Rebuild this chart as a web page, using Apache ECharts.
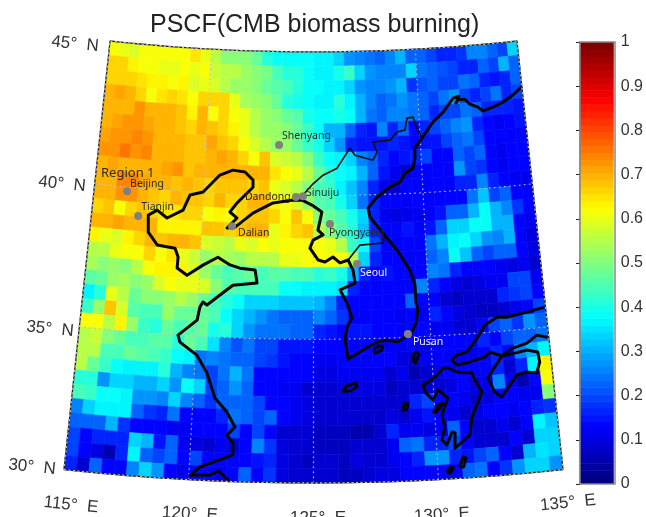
<!DOCTYPE html>
<html><head><meta charset="utf-8">
<style>html,body{margin:0;padding:0;background:#fff}#main{width:646px;height:517px;filter:blur(0.6px)}</style>
<script src="https://cdn.jsdelivr.net/npm/echarts@6/dist/echarts.min.js"></script>
</head><body><div id="main"></div>
<script>
const titleText = 'PSCF(CMB biomass burning)';
const lonEdges = [115,135], latEdges = [30,45], cellDeg = 0.5;
const lonTicks = ['115°  E','120°  E','125°  E','130°  E','135°  E'];
const latTicks = ['45°  N','40°  N','35°  N','30°  N'];
const meridians = [120,125,130], parallels = [35,40];
// PSCF x 100, rows from 45N southward, columns from 115E eastward
const r00=[62,60,58,62,62,61,62,62,65,60, 56,50,50,50,47,42,38,38,38,38, 37,36,33,28,26,24,22,26,30,22, 22,20,17,16,18,25,26,22,20,34];
const r01=[66,66,63,62,61,60,60,62,60,62, 57,55,56,52,50,49,44,42,42,38, 37,37,40,43,33,27,25,25,26,33, 24,22,21,19,17,17,22,20,30,22];
const r02=[67,66,66,65,64,64,62,63,58,60, 58,55,52,52,50,47,46,44,42,38, 38,37,37,34,27,25,25,28,30,18, 21,22,20,20,24,22,17,15,17,22];
const r03=[70,71,70,67,62,65,66,65,62,66, 67,66,60,54,52,50,47,42,40,38, 36,36,42,36,31,25,23,24,27,24, 23,19,24,28,19,17,19,24,16,20];
const r04=[70,70,70,72,70,69,69,68,64,70, 62,66,62,60,56,52,50,48,46,40, 38,38,40,38,31,24,22,25,26,24, 22,17,19,19,24,22,16,17,16,15];
const r05=[70,71,73,72,71,70,70,68,66,70, 68,66,63,60,55,52,52,50,48,43, 38,30,30,22,17,15,25,17,22,14, 16,19,22,25,28,16,14,11,14,15];
const r06=[71,72,72,74,73,70,70,70,68,68, 71,68,66,62,58,55,53,53,48,43, 40,33,27,17,15,15,15,17,15,14, 15,15,20,22,24,20,14,13,13,14];
const r07=[72,73,75,73,74,70,70,70,68,68, 70,71,70,66,62,68,58,57,56,50, 43,38,36,33,25,22,17,13,15,16, 20,13,14,22,19,22,13,12,13,14];
const r08=[70,71,70,70,70,70,71,73,68,70, 70,70,70,70,70,70,65,62,60,55, 47,42,38,36,30,22,15,12,9,13, 14,13,14,28,19,18,14,12,13,13];
const r09=[70,70,74,74,71,70,70,68,70,68, 66,68,68,68,66,68,60,58,56,50, 45,43,37,32,25,16,12,9,14,14, 14,14,13,16,16,25,16,13,12,12];
const r10=[70,70,73,72,70,68,67,69,68,68, 67,70,66,66,70,70,64,62,58,52, 46,44,40,33,24,17,13,13,11,13, 13,13,13,14,24,32,19,22,14,13];
const r11=[66,68,62,66,68,66,65,65,66,66, 62,63,62,66,68,68,66,62,68,62, 50,48,45,40,33,17,11,10,11,12, 13,15,22,22,30,38,30,25,18,13];
const r12=[70,70,71,70,70,70,64,64,63,63, 68,68,66,68,70,70,60,63,66,68, 56,50,46,42,32,16,14,14,15,14, 15,22,33,33,38,38,30,30,13,11];
const r13=[64,60,58,63,66,70,68,70,70,68, 58,57,56,60,58,62,60,62,62,62, 62,60,56,43,38,19,14,13,13,14, 24,30,36,38,34,27,26,30,13,10];
const r14=[56,55,60,62,62,66,62,65,60,57, 52,56,54,52,55,56,56,60,60,62, 62,62,62,55,33,17,14,13,13,13, 22,26,38,32,22,19,22,22,13,10];
const r15=[54,50,52,50,55,62,63,63,63,58, 52,48,45,46,47,45,46,46,44,44, 42,43,40,30,16,14,15,14,13,13, 25,24,17,14,14,13,12,10,11,9];
const r16=[46,48,53,54,50,52,58,62,60,60, 58,50,46,45,44,44,44,38,38,37, 37,36,35,16,14,14,13,13,13,26, 16,13,10,8,10,11,11,20,20,11];
const r17=[37,42,60,56,48,50,50,52,55,52, 48,44,42,38,34,33,33,32,32,32, 30,26,17,14,14,14,13,13,22,14, 13,9,7,8,9,8,17,18,20,13];
const r18=[43,52,68,58,46,45,45,52,48,48, 48,45,38,34,30,27,24,22,22,23, 26,22,18,14,14,13,13,12,13,11, 17,13,10,8,7,7,8,11,14,20];
const r19=[62,62,55,64,52,43,42,48,44,46, 48,40,42,33,28,24,24,24,22,22, 17,15,14,15,15,14,13,13,14,13, 11,11,9,9,14,20,22,18,28,22];
const r20=[55,57,50,47,45,44,46,46,42,47, 45,35,25,21,24,20,19,15,15,15, 13,13,13,13,13,13,11,12,13,12, 11,13,13,14,17,13,20,22,22,24];
const r21=[55,55,45,44,48,46,44,43,38,37, 24,26,24,22,22,19,18,15,13,13, 12,12,13,13,14,13,13,10,8,11, 13,13,11,12,13,16,14,25,30,37];
const r22=[56,48,43,38,36,36,36,42,30,25, 24,20,24,30,24,14,14,14,13,13, 10,10,11,12,12,12,9,12,6,8, 11,13,13,13,14,17,8,17,37,63];
const r23=[42,42,28,33,33,30,30,33,28,38, 33,20,22,27,22,13,13,11,11,9, 9,9,10,10,10,10,7,9,8,8, 8,10,13,10,11,25,11,6,13,62];
const r24=[45,43,38,38,36,28,27,25,33,25, 22,18,22,22,22,19,13,13,11,10, 9,8,8,8,8,8,8,8,17,20, 14,14,11,8,10,13,14,11,11,50];
const r25=[26,33,36,37,36,22,18,16,24,14, 13,13,17,24,22,20,22,13,11,10, 8,8,8,8,8,8,10,9,11,15, 13,11,8,10,13,14,11,13,17,18];
const r26=[22,22,22,31,18,13,13,13,11,11, 13,14,14,19,14,19,13,9,8,9, 7,7,7,6,6,8,16,11,11,10, 11,22,13,8,8,11,8,13,37,32];
const r27=[19,14,16,16,16,33,30,15,22,11, 10,8,11,9,13,25,18,10,8,8, 7,7,7,8,8,8,11,22,24,17, 16,19,14,8,8,8,14,9,34,33];
const r28=[19,13,10,6,17,37,22,20,22,14, 20,14,13,13,13,15,17,10,8,7, 8,8,7,10,9,9,11,13,17,27, 27,17,15,19,22,14,9,30,35,34];
const r29=[17,8,22,13,13,25,33,27,13,11, 13,13,11,14,22,13,18,10,8,8, 8,8,7,7,9,10,10,13,13,13, 13,13,22,24,13,18,27,33,33,27];
const pscfRows=[r00,r01,r02,r03,r04,r05,r06,r07,r08,r09,r10,r11,r12,r13,r14,r15,r16,r17,r18,r19,r20,r21,r22,r23,r24,r25,r26,r27,r28,r29];

const mainCoast=[[135,43.4],[134.52,43.14],[134.02,42.93],[133.53,42.79],[133.04,42.69],[132.82,42.84],[132.45,42.96],[132.23,43.15],[131.9,43.14],[131.79,43.04],[131.96,43.27],[131.67,43.22],[131.15,42.75],[130.64,42.43],[130.09,41.9],[129.73,41.56],[129.71,41.21],[129.6,40.87],[129.22,40.71],[128.97,40.41],[128.5,40.25],[127.89,39.91],[127.47,39.54],[127.55,39.22],[128.11,38.65],[128.71,38.05],[129.24,37.33],[129.43,36.8],[129.44,36.18],[129.51,35.97],[129.4,35.48],[129.17,35.14],[128.55,34.85],[128.13,34.93],[127.7,34.87],[127.1,34.61],[126.46,34.3],[126.34,35.07],[126.48,35.49],[126.66,35.73],[126.45,36.25],[126.16,36.71],[126.82,36.94],[126.74,37.39],[126.53,37.75],[126.17,37.65],[125.86,37.86],[125.51,37.69],[125.2,37.76],[124.84,38.17],[124.98,38.45],[125.43,38.63],[125.2,38.8],[125.38,39.43],[124.93,39.67],[124.48,39.84],[124.07,39.84],[123.16,39.73],[122.26,39.36],[121.48,38.85],[121.12,38.81],[121.55,39.17],[121.22,39.37],[121.52,39.69],[122.23,40.26],[122.22,40.51],[121.84,40.78],[121.28,40.83],[120.69,40.64],[119.96,40.02],[119.37,39.89],[119.1,39.35],[118.4,39.04],[117.93,39.29],[117.55,39.09],[117.61,38.5],[118.05,38.08],[118.85,38.01],[119.01,37.71],[119,37.33],[119.45,37.1],[120.13,37.48],[120.77,37.78],[121.32,37.53],[121.76,37.43],[122.43,37.38],[122.53,36.93],[121.48,36.83],[120.81,36.39],[120.39,36.1],[120.21,36.2],[120.09,36.02],[120,35.56],[119.22,35],[119.32,34.76],[120.07,34.34],[120.53,33.74],[120.91,32.88],[121.43,32.41],[121.78,31.9],[121.47,31.61],[121.72,31.34],[121.74,30.93],[120.43,30.46],[120.05,30.16],[120.85,30.2],[121.16,30.35],[121.41,30.18],[121.66,30]];
const chinaKoreaBorder=[[124.52,40.02],[124.93,40.37],[125.44,40.71],[126.09,40.95],[126.7,41.64],[126.93,41.39],[127.76,41.2],[127.96,41.48],[127.79,41.83],[128.59,41.88],[128.93,42.15],[129.31,42.21],[129.43,42.62],[129.72,42.64],[129.88,42.25],[130.09,41.9]];
const koreaDivide=[[126.53,37.75],[127.07,38.26],[128.1,38.31],[128.2,38.65]];
const honshu=[[134.96,35.69],[134.17,35.58],[133.3,35.47],[132.88,35.5],[132.34,35.26],[131.96,34.83],[131.49,34.37],[131.06,34.29],[130.84,34.13],[131.03,33.94],[131.59,34.02],[132.23,34.15],[132.46,34.31],[132.95,34.14],[132.52,33.68],[132.29,33.42],[132.53,32.91],[132.8,32.72],[133.03,32.95],[133.5,33.43],[133.93,33.51],[134.34,33.44],[134.51,33.81],[134.47,34.16],[134.02,34.27],[133.5,34.2],[132.95,34.14],[133.44,34.38],[134.05,34.51],[134.5,34.75],[134.95,34.64]];
const kyushu=[[130.44,33.87],[130.09,33.57],[129.57,33.31],[129.64,33.07],[129.95,32.78],[130.18,33.11],[130.57,32.82],[130.29,32.24],[130.38,31.82],[130.23,31.37],[130.42,31.19],[130.66,31.63],[130.78,31.59],[130.74,31.06],[131.38,31.48],[131.51,32.1],[132,32.95],[131.74,33.38],[131.64,33.63],[131.02,33.7],[130.65,33.86],[130.44,33.87]];
const jeju=[[126.19,33.19],[126.4,33.37],[126.77,33.47],[126.81,33.33],[126.52,33.19],[126.19,33.19]];
const southIsle=[[127.53,34.59],[127.74,34.73],[127.95,34.72],[127.87,34.57],[127.61,34.49],[127.53,34.59]];
const tsushima=[[129.38,34.51],[129.46,34.37],[129.29,34.09],[129.21,34.19],[129.25,34.4],[129.38,34.51]];
const smallIsle=[[128.75,32.71],[128.91,32.68],[128.83,32.47],[128.67,32.47],[128.75,32.71]];
const goto=[[129.94,32.32],[130.14,32.59],[130.35,32.65],[130.22,32.49],[130.02,32.32],[129.94,32.32]];
const tanega=[[130.88,30.4],[131.04,30.74],[131.16,30.7],[131.04,30.39],[130.88,30.4]];
const yaku=[[130.35,30.22],[130.51,30.42],[130.63,30.38],[130.51,30.21],[130.35,30.22]];
const coastLines=[mainCoast,honshu,kyushu,jeju,southIsle,tsushima,smallIsle,goto,tanega,yaku];
const borderLines=[chinaKoreaBorder,koreaDivide];

const cityNames=['Shenyang','Beijing','Tianjin','Dandong','Sinuiju','Dalian','Pyongyang','Seoul','Pusan'];
const cityLon=[123.39,116.5,117.1,124.2,124.52,121.34,125.74,126.92,129.03];
const cityLat=[41.75,39.86,39.03,39.95,39.98,38.88,39.01,37.6,35.11];
const cityLabelOffset=[[-1,-9],[-1,-7],[-1,-9],[-55,0],[-1,-3],[2,7],[-5,9],[-1,9],[1,8]];
const cityLabelColor=['#2a2a2a','#2a2a2a','#2a2a2a','#2a2a2a','#2a2a2a','#2a2a2a','#2a2a2a','#f4f4f4','#f4f4f4'];

const D=Math.PI/180, N=0.613, R30=2336, PXDEG=28.75, LON0=125;
const project=([lon,lat])=>{const r=R30-(lat-30)*PXDEG,t=(lon-LON0)*N*D;return [r*Math.sin(t),r*Math.cos(t)];};
const unproject=([x,y])=>{const r=Math.hypot(x,y),t=Math.atan2(x,y);return [t/(N*D)+LON0,30+(R30-r)/PXDEG];};

function jet(v){const t=Math.min(63,Math.max(0,Math.floor(v*64)))/63;
  const c=a=>Math.round(255*Math.min(1,Math.max(0,1.5-Math.abs(4*t-a))));
  return 'rgb('+c(3)+','+c(2)+','+c(1)+')';}

const ring=[];
for(let x=lonEdges[0];x<=lonEdges[1];x+=cellDeg)ring.push([x,latEdges[0]]);
for(let y=latEdges[0]+cellDeg;y<=latEdges[1];y+=cellDeg)ring.push([lonEdges[1],y]);
for(let x=lonEdges[1]-cellDeg;x>=lonEdges[0];x-=cellDeg)ring.push([x,latEdges[1]]);
for(let y=latEdges[1]-cellDeg;y>=latEdges[0];y-=cellDeg)ring.push([lonEdges[0],y]);
echarts.registerMap('frame',{type:'FeatureCollection',features:[{type:'Feature',properties:{name:'frame'},geometry:{type:'Polygon',coordinates:[ring]}}]});

const cells=[];
pscfRows.forEach((row,i)=>row.forEach((v,j)=>cells.push([lonEdges[0]+j*cellDeg,latEdges[1]-(i+1)*cellDeg,v/100])));

function pathSeries(paths,z,style){
  return {type:'custom',coordinateSystem:'geo',geoIndex:0,silent:true,z,animation:false,
    data:paths.map((p,i)=>[p[0][0],p[0][1],i]),
    renderItem:(params,api)=>{const p=paths[api.value(2)].map(c=>api.coord(c));
      return {type:'polyline',shape:{points:p},style:Object.assign({fill:null,lineJoin:'round'},style)};}};
}
function dens(a0,a1,f){const o=[];for(let a=a0;a<=a1+1e-6;a+=0.5)o.push(f(a));return o;}
const gratLines=[...meridians.map(m=>dens(latEdges[0],latEdges[1],y=>[m,y])),...parallels.map(p=>dens(lonEdges[0],lonEdges[1],x=>[x,p]))];

const FONT='"Liberation Sans",Arial,sans-serif';
const latPos=[[75,44,-6],[62,184,-6],[50,329,-6],[32,467,-6]];
const lonPos=[[71,505,-6],[190,514,-3],[318,518,0],[442,515,3],[568,503,6]];
const tickText=(t,p)=>({type:'text',x:p[0],y:p[1],rotation:p[2]*D,silent:true,
  style:{text:t,font:'17px '+FONT,fill:'#333',textAlign:'center',textVerticalAlign:'middle'}});

const chart=echarts.init(document.getElementById('main'),null,{renderer:'canvas'});
const levels=[];for(let k=0;k<64;k++)levels.push([0,k/64]);
chart.setOption({
  animation:false,backgroundColor:'#fff',
  title:{text:titleText,left:145,top:8,textStyle:{fontFamily:FONT,fontSize:25,fontWeight:'normal',color:'#222'}},
  geo:{map:'frame',projection:{project,unproject},left:64,top:41,width:499,height:442,silent:true,roam:false,
    label:{show:false},itemStyle:{areaColor:'transparent',borderWidth:0}},
  grid:{left:580,top:42,width:35,height:442,show:false},
  xAxis:{type:'value',min:0,max:1,show:false},
  yAxis:{type:'value',position:'right',min:0,max:1,interval:0.1,
    axisLine:{show:true,lineStyle:{color:'#888',width:1.5}},
    axisTick:{show:true,inside:true,length:4,lineStyle:{color:'#222',width:1}},
    splitLine:{show:false},
    axisLabel:{fontSize:16,margin:7,color:'#333',fontFamily:FONT,formatter:v=>String(+v.toFixed(1))}},
  series:[
    {type:'custom',coordinateSystem:'geo',geoIndex:0,silent:true,z:2,animation:false,data:cells,
      renderItem:(params,api)=>{const x=api.value(0),y=api.value(1),c=jet(api.value(2));
        return {type:'polygon',shape:{points:[api.coord([x,y]),api.coord([x+cellDeg,y]),api.coord([x+cellDeg,y+cellDeg]),api.coord([x,y+cellDeg])]},
          style:{fill:c,stroke:c,lineWidth:0.6}};}},
    pathSeries(gratLines,3,{stroke:'#bcbcd2',lineWidth:1.2,lineDash:[1.5,3.5]}),
    pathSeries(borderLines,4,{stroke:'#111',lineWidth:1.7}),
    pathSeries(coastLines,5,{stroke:'#050505',lineWidth:3}),
    pathSeries([ring.concat([ring[0]])],6,{stroke:'#222',lineWidth:1.3}),
    pathSeries([ring.concat([ring[0]])],6,{stroke:'#bbb',lineWidth:1.3,lineDash:[2,2.5]}),
    {type:'scatter',coordinateSystem:'geo',geoIndex:0,silent:true,z:8,symbolSize:8,animation:false,
      itemStyle:{color:'#808080',opacity:1},
      data:cityNames.map((n,i)=>({name:n,value:[cityLon[i],cityLat[i]],
        label:{show:true,formatter:n,position:'right',distance:0,offset:cityLabelOffset[i],color:cityLabelColor[i],
          fontSize:10.5,fontFamily:'"Noto Sans",sans-serif'}}))},
    {type:'custom',coordinateSystem:'cartesian2d',xAxisIndex:0,yAxisIndex:0,silent:true,z:2,animation:false,
      data:levels,clip:true,
      renderItem:(params,api)=>{const v=api.value(1);const a=api.coord([0,v]),b=api.coord([1,v+1/64]);
        return {type:'rect',shape:{x:a[0],y:b[1],width:b[0]-a[0],height:a[1]-b[1]+0.5},style:{fill:jet(v+1/128)}};}}
  ],
  graphic:{elements:[
    ...latTicks.map((t,i)=>tickText(t,latPos[i])),
    ...lonTicks.map((t,i)=>tickText(t,lonPos[i])),
    {type:'text',x:101,y:173,silent:true,z:20,style:{text:'Region 1',font:'13px "Noto Sans",sans-serif',fill:'#2a2a2a',textVerticalAlign:'middle'}},
    {type:'rect',shape:{x:580,y:42,width:35,height:442},silent:true,z:20,style:{fill:null,stroke:'#888',lineWidth:1.5}}
  ]}
});
</script></body></html>
